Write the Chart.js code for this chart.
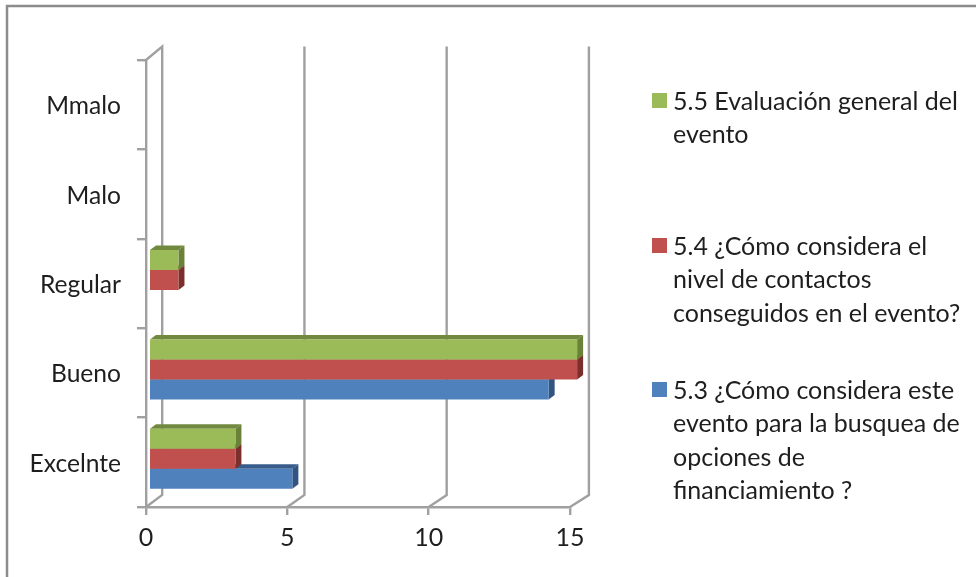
<!DOCTYPE html>
<html><head><meta charset="utf-8">
<style>html,body{margin:0;padding:0;background:#fff}#w{position:relative;width:976px;height:577px;overflow:hidden}canvas{display:block}</style>
<script src="https://cdn.jsdelivr.net/npm/chart.js@4"></script></head>
<body><div id="w"><canvas id="c" width="976" height="577"></canvas></div>
<script>
const categories = ['Mmalo','Malo','Regular','Bueno','Excelnte'];
const seriesNames = [
  ['5.5 Evaluación general del','evento'],
  ['5.4 ¿Cómo considera el','nivel de contactos','conseguidos en el evento?'],
  ['5.3 ¿Cómo considera este','evento para la busquea de','opciones de','financiamiento ?']
];
const evaluacion = [0,0,1,15,3];
const contactos  = [0,0,1,15,3];
const financiamiento = [0,0,0,14,5];
const xTicks = [0,5,10,15];
const colors = ['#9BBB59','#C0504D','#4F81BD'];
const topColors = ['#71893F','#8C3A38','#385D8A'];
const sideColors = ['#6A8139','#7A2F2D','#325480'];
const legendTop = [101,246,390];
const GRID='#A0A0A0', TEXT='#1E1E1E', FONT='Lato, Carlito, sans-serif';
const DX=6, DY=4.5, WY=13.5;

const depth3d = {
  id:'depth3d',
  beforeDraw(chart){
    const {ctx,width,height}=chart;
    ctx.save();
    ctx.fillStyle='#fff';ctx.fillRect(0,0,width,height);
    ctx.strokeStyle='#8C8C8C';ctx.lineWidth=2.5;
    ctx.beginPath();ctx.moveTo(7,height);ctx.lineTo(7,6);ctx.lineTo(width,6);ctx.stroke();
    ctx.restore();
  },
  beforeDatasetsDraw(chart){
    const {ctx,chartArea:a}=chart, xs=chart.scales.x;
    ctx.save();
    ctx.strokeStyle=GRID;ctx.lineWidth=2.4;
    xTicks.forEach(v=>{
      const x=xs.getPixelForValue(v), wx=16.2+v*0.18;
      ctx.beginPath();
      if(v===0){ctx.moveTo(x,a.top);ctx.lineTo(x+wx,a.top-WY);}
      else ctx.moveTo(x+wx,a.top-WY);
      ctx.lineTo(x+wx,a.bottom-WY+1.5);
      ctx.lineTo(x,a.bottom);
      ctx.stroke();
    });
    ctx.restore();
    ctx.save();
    ctx.translate(0,-3.5);
  },
  beforeDatasetDraw(chart,args){
    const {ctx}=chart, i=args.index;
    const meta=chart.getDatasetMeta(i);
    meta.data.forEach((b,j)=>{
      if(!chart.data.datasets[i].data[j]) return;
      const p=b.getProps(['x','y','base','height'],true);
      const t=p.y-p.height/2, bt=p.y+p.height/2;
      ctx.fillStyle=topColors[i];
      ctx.beginPath();ctx.moveTo(p.base,t);ctx.lineTo(p.base+DX,t-DY);ctx.lineTo(p.x+DX,t-DY);ctx.lineTo(p.x,t);ctx.closePath();ctx.fill();
      ctx.fillStyle=sideColors[i];
      ctx.beginPath();ctx.moveTo(p.x,t);ctx.lineTo(p.x+DX,t-DY);ctx.lineTo(p.x+DX,bt-DY);ctx.lineTo(p.x,bt);ctx.closePath();ctx.fill();
    });
  },
  afterDatasetsDraw(chart){ chart.ctx.restore(); },
  afterDraw(chart){
    const {ctx}=chart;
    ctx.save();
    ctx.font='25px '+FONT;ctx.textBaseline='middle';ctx.textAlign='left';
    seriesNames.forEach((lines,i)=>{
      const y0=legendTop[i];
      ctx.fillStyle=colors[i];ctx.fillRect(652,y0-8,15,15);
      ctx.fillStyle=TEXT;
      lines.forEach((s,k)=>ctx.fillText(s,673,y0+1+k*33.4));
    });
    ctx.restore();
  }
};

new Chart(document.getElementById('c'),{
  type:'bar',
  data:{labels:categories,datasets:[
    {label:seriesNames[0].join(' '),data:evaluacion,backgroundColor:colors[0],xAxisID:'xb',clip:false},
    {label:seriesNames[1].join(' '),data:contactos,backgroundColor:colors[1],xAxisID:'xb',clip:false},
    {label:seriesNames[2].join(' '),data:financiamiento,backgroundColor:colors[2],xAxisID:'xb',clip:false}
  ]},
  options:{
    indexAxis:'y',responsive:false,animation:false,devicePixelRatio:1,
    layout:{padding:{left:0,right:406,top:60,bottom:0}},
    categoryPercentage:0.671,barPercentage:1,
    plugins:{legend:{display:false},tooltip:{enabled:false},title:{display:false}},
    scales:{
      x:{type:'linear',position:'bottom',min:0,max:15,afterFit(s){s.height=70;},
        ticks:{values:xTicks,stepSize:5,color:TEXT,font:{family:FONT,size:25},padding:8,maxRotation:0},
        grid:{drawOnChartArea:false,color:GRID,lineWidth:2.4,tickLength:8},
        border:{color:GRID,width:2.4}},
      xb:{type:'linear',display:false,position:'bottom',min:-0.14,max:14.75},
      y:{type:'category',
        afterFit(s){s.width=146;},
        ticks:{color:TEXT,font:{family:FONT,size:24.6},padding:16,labelOffset:1.5},
        grid:{drawOnChartArea:false,color:GRID,lineWidth:2.4,tickLength:9,offset:true},
        border:{color:GRID,width:2.4}}
    }
  },
  plugins:[depth3d]
});
</script></body></html>
